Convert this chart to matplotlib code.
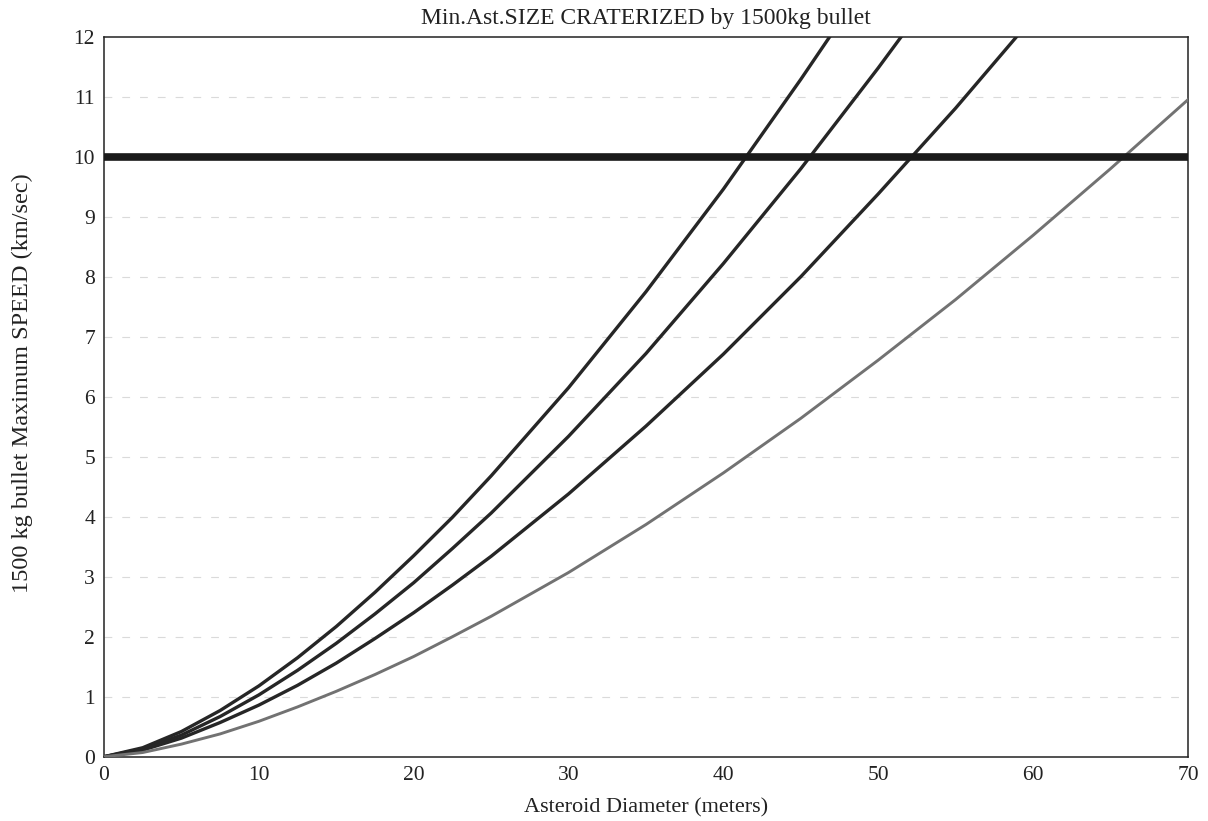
import numpy as np
import matplotlib.pyplot as plt

plt.rcParams['font.family'] = ['Liberation Serif', 'DejaVu Serif']

# asteroid diameter (m) and max bullet speed (km/s) for each curve
diam_a = [0, 2.5, 5, 7.5, 10, 12.5, 15, 17.5, 20, 22.5, 25, 30, 35, 40, 45, 47]
speed_a = [0, 0.15, 0.42, 0.77, 1.18, 1.65, 2.17, 2.74, 3.35, 3.99, 4.68, 6.15, 7.75, 9.46, 11.29, 12.05]

diam_b = [0, 2.5, 5, 7.5, 10, 12.5, 15, 17.5, 20, 22.5, 25, 30, 35, 40, 45, 50, 52]
speed_b = [0, 0.13, 0.36, 0.67, 1.03, 1.44, 1.89, 2.38, 2.90, 3.47, 4.06, 5.34, 6.72, 8.22, 9.80, 11.48, 12.18]

diam_c = [0, 2.5, 5, 7.5, 10, 12.5, 15, 17.5, 20, 22.5, 25, 30, 35, 40, 45, 50, 55, 59]
speed_c = [0, 0.11, 0.31, 0.57, 0.86, 1.19, 1.56, 1.97, 2.40, 2.86, 3.34, 4.38, 5.51, 6.71, 8.00, 9.38, 10.81, 12.02]

diam_d = [0, 2.5, 5, 7.5, 10, 12.5, 15, 17.5, 20, 22.5, 25, 30, 35, 40, 45, 50, 55, 60, 65, 70]
speed_d = [0, 0.07, 0.21, 0.38, 0.59, 0.83, 1.09, 1.37, 1.67, 2.00, 2.34, 3.07, 3.87, 4.73, 5.64, 6.61, 7.62, 8.69, 9.80, 10.95]

speed_limit = 10
x_ticks = [0, 10, 20, 30, 40, 50, 60, 70]
y_ticks = list(range(0, 13))

fig = plt.figure(figsize=(12.08, 8.21), dpi=100)
ax = fig.add_axes([0.0861, 0.0783, 0.8973, 0.877])

# faint dashed grid at each integer speed
for yv in y_ticks[1:-1]:
    ax.axhline(yv, color='#dadada', lw=0.8, ls=(0, (7, 9)), zorder=1)

ax.plot(diam_a, speed_a, color='#262626', lw=2.4, zorder=3)
ax.plot(diam_b, speed_b, color='#262626', lw=2.4, zorder=3)
ax.plot(diam_c, speed_c, color='#262626', lw=2.4, zorder=3)
ax.plot(diam_d, speed_d, color='#727272', lw=2.1, zorder=3)

ax.axhline(speed_limit, color='#1a1a1a', lw=5.5, zorder=4)

ax.set_xlim(0, 70)
ax.set_ylim(0, 12)
ax.set_xticks(x_ticks)
ax.set_yticks(y_ticks)
ax.tick_params(length=0, labelsize=15.5, colors='#222222')
ax.tick_params(axis='y', pad=6.5)
ax.tick_params(axis='x', pad=6.5)
for s in ax.spines.values():
    s.set_linewidth(1.1)
    s.set_color('#222222')

ax.set_title('Min.Ast.SIZE CRATERIZED by 1500kg bullet', fontsize=17, pad=9, color='#222222')
ax.set_xlabel('Asteroid Diameter (meters)', fontsize=16, color='#222222')
ax.set_ylabel('1500 kg bullet Maximum SPEED (km/sec)', fontsize=17.5, color='#222222')
ax.xaxis.set_label_coords(0.5, -0.058)
ax.yaxis.set_label_coords(-0.0655, 0.519)

fig.savefig('out.png', dpi=100)
